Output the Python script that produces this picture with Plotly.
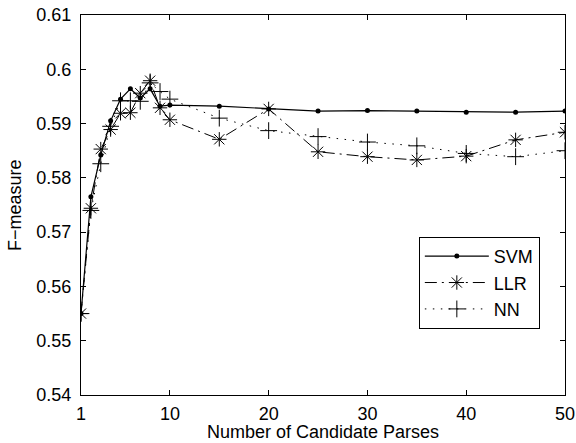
import plotly.graph_objects as go

x_parses = [1, 2, 3, 4, 5, 6, 7, 8, 9, 10, 15, 20, 25, 30, 35, 40, 45, 50]
svm = [0.555, 0.5765, 0.5842, 0.5905, 0.5945, 0.5964, 0.5947, 0.5964, 0.5932, 0.5934,
       0.5932, 0.5927, 0.5923, 0.5924, 0.5923, 0.5921, 0.5921, 0.5923]
llr = [0.555, 0.5744, 0.5853, 0.5889, 0.5919, 0.5920, 0.5956, 0.5979, 0.5929, 0.5907,
       0.5871, 0.5927, 0.5848, 0.5839, 0.5833, 0.5840, 0.5870, 0.5884]
nn = [0.555, 0.5740, 0.5826, 0.5895, 0.5942, 0.5942, 0.5941, 0.5975, 0.5959, 0.5945,
      0.5910, 0.5887, 0.5876, 0.5866, 0.5859, 0.5845, 0.5839, 0.5850]

x_ticks = [1, 10, 20, 30, 40, 50]
y_ticks = [0.54, 0.55, 0.56, 0.57, 0.58, 0.59, 0.60, 0.61]
y_ticktext = ["0.54", "0.55", "0.56", "0.57", "0.58", "0.59", "0.6", "0.61"]
x_title = "Number of Candidate Parses"
y_title = "F−measure"

FONT = "Liberation Sans, Arial, Helvetica, sans-serif"
fs = 18

fig = go.Figure()
fig.add_trace(go.Scatter(
    x=x_parses, y=svm, name="SVM", mode="lines+markers",
    line=dict(color="black", width=1.2),
    marker=dict(symbol="circle", size=5, color="black"),
    legendgroup="a"))
fig.add_trace(go.Scatter(
    x=x_parses, y=llr, name="LLR", mode="lines+markers",
    line=dict(color="black", width=1, dash="12px,5px,2px,5px"),
    marker=dict(symbol="asterisk-open", size=12, color="black",
                line=dict(color="black", width=1)),
    legendgroup="b"))
fig.add_trace(go.Scatter(
    x=x_parses, y=nn, name="NN", mode="lines+markers",
    line=dict(color="black", width=1, dash="1.5px,6.5px"),
    marker=dict(symbol="cross-thin-open", size=12, color="black",
                line=dict(color="black", width=1)),
    legendgroup="c"))

axis_common = dict(
    showline=True, linecolor="black", linewidth=1, mirror="ticks",
    ticks="inside", ticklen=5, tickcolor="black", tickwidth=1,
    showgrid=False, zeroline=False, automargin=False,
    tickfont=dict(family=FONT, size=fs, color="black"),
)

fig.update_xaxes(
    range=[1, 50], tickvals=x_ticks, ticktext=[str(t) for t in x_ticks],
    ticklabelstandoff=2,
    **axis_common)
fig.update_yaxes(
    range=[0.54, 0.61], tickvals=y_ticks, ticktext=y_ticktext,
    ticklabelstandoff=5,
    **axis_common)

fig.add_annotation(
    text=x_title, xref="paper", yref="paper", x=0.5, y=0,
    xanchor="center", yanchor="top", yshift=-25, showarrow=False,
    font=dict(family=FONT, size=fs, color="black"))
fig.add_annotation(
    text=y_title, xref="paper", yref="paper", x=0, y=0.5,
    xanchor="center", yanchor="middle", xshift=-66, textangle=-90, showarrow=False,
    font=dict(family=FONT, size=fs, color="black"))

fig.update_layout(
    width=576, height=443,
    margin=dict(l=81, r=11, t=15, b=48),
    paper_bgcolor="white", plot_bgcolor="white",
    showlegend=True,
    legend=dict(
        x=0.698, y=0.416, xanchor="left", yanchor="top",
        bgcolor="white", bordercolor="black", borderwidth=1,
        font=dict(family=FONT, size=18, color="black"),
        itemwidth=64, tracegroupgap=0, traceorder="grouped",
    ),
)

fig.write_html(
    "out.html",
    config={"displayModeBar": False},
    post_script="document.body.style.margin='0';document.body.style.overflow='hidden';",
)
